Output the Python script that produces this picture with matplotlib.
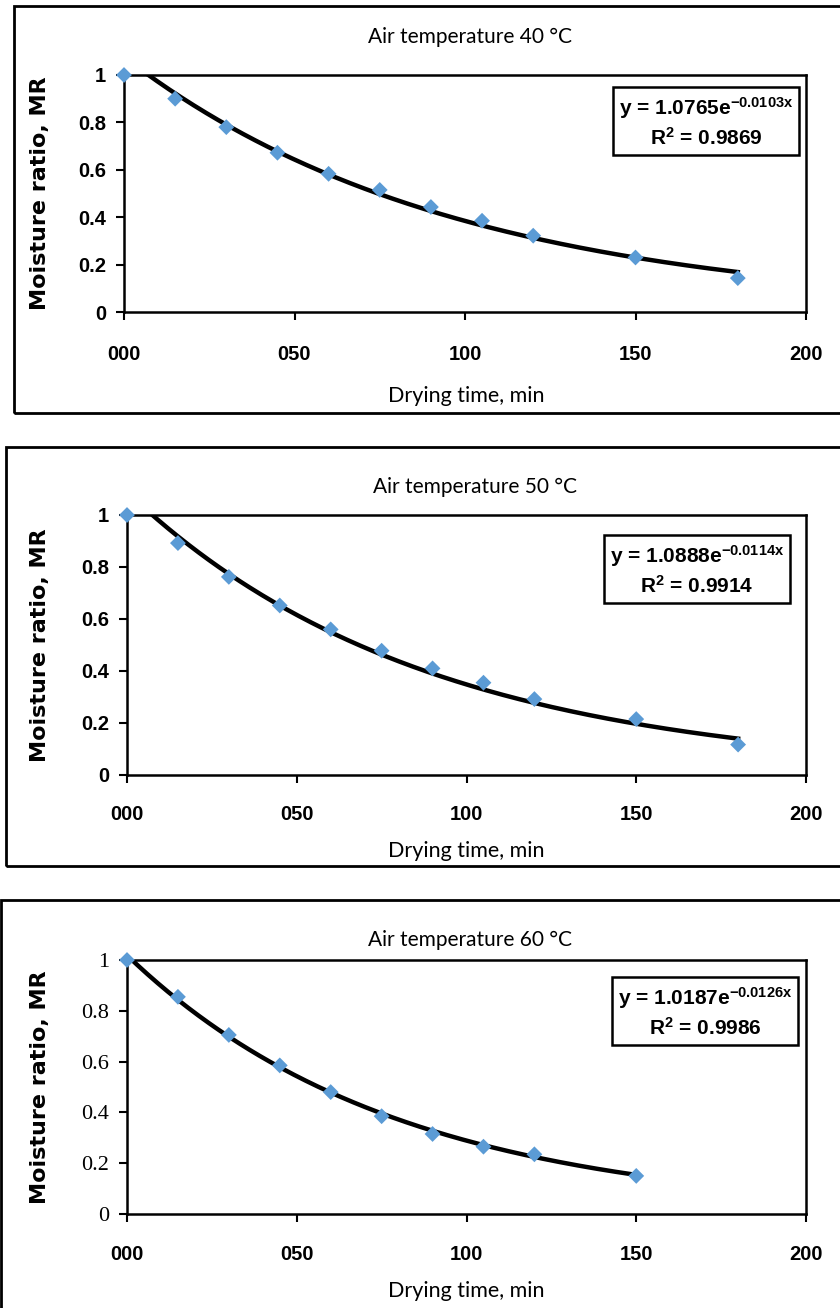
import matplotlib.pyplot as plt
from matplotlib.patches import Rectangle
import numpy as np

plt.rcParams['mathtext.default'] = 'regular'

# Datos
time_40 = [0, 15, 30, 45, 60, 75, 90, 105, 120, 150, 180]
mr_40 = [1.0, 0.90, 0.78, 0.672, 0.583, 0.515, 0.443, 0.385, 0.322, 0.23, 0.143]

time_50 = [0, 15, 30, 45, 60, 75, 90, 105, 120, 150, 180]
mr_50 = [1.0, 0.892, 0.762, 0.652, 0.56, 0.478, 0.41, 0.355, 0.292, 0.215, 0.117]

time_60 = [0, 15, 30, 45, 60, 75, 90, 105, 120, 150]
mr_60 = [1.0, 0.855, 0.705, 0.585, 0.48, 0.385, 0.315, 0.265, 0.235, 0.15]

# Coeficientes de las lineas de tendencia (a, b, R2)
fits = [(1.0765, -0.0103, 0.9869), (1.0888, -0.0114, 0.9914), (1.0187, -0.0126, 0.9986)]
temps = [40, 50, 60]

xticks = [0, 50, 100, 150, 200]
xticklabels = ['000', '050', '100', '150', '200']
yticks = [0, 0.2, 0.4, 0.6, 0.8, 1]
yticklabels = ['0', '0.2', '0.4', '0.6', '0.8', '1']

W, H = 840, 1308
fig = plt.figure(figsize=(W / 100, H / 100), dpi=100)


def fx(px):
    return px / W


def fy(py):
    return 1 - py / H


# Posiciones en pixeles de cada panel: caja exterior, ejes, titulo, ecuacion, etiqueta x
panels = [
    dict(box=(13, 6, 900, 413), ax=(124, 806, 75, 312), title=(470, 37), eq=(706, 122), xl=(466, 396), xt=352),
    dict(box=(5, 447, 900, 866), ax=(127, 806, 515, 775), title=(475, 487), eq=(697, 570), xl=(466, 851), xt=812),
    dict(box=(0, 900, 900, 1320), ax=(127, 806, 960, 1214), title=(470, 940), eq=(705, 1012), xl=(466, 1291), xt=1252),
]

series = [(time_40, mr_40), (time_50, mr_50), (time_60, mr_60)]

for i, p in enumerate(panels):
    x0, y0, x1, y1 = p['box']
    fig.patches.append(Rectangle((fx(x0 + 1), fy(y1)), fx(x1 - x0), (y1 - y0) / H,
                                 transform=fig.transFigure, fill=False,
                                 edgecolor='black', linewidth=2.0, clip_on=False))

    l, r, t, b = p['ax']
    ax = fig.add_axes([fx(l), fy(b), fx(r - l), (b - t) / H])
    xs, ys = series[i]
    a, k, r2 = fits[i]

    # Linea de tendencia exponencial
    xfit = np.linspace(0, xs[-1], 300)
    ax.plot(xfit, a * np.exp(k * xfit), color='black', linewidth=3.2, zorder=2)
    ax.scatter(xs, ys, marker='D', s=65, color='#5b9bd5', edgecolors='none',
               zorder=3, clip_on=False)

    ax.set_xlim(0, 200)
    ax.set_ylim(0, 1)
    ax.set_xticks(xticks)
    ax.set_xticklabels(xticklabels)
    for lbl in ax.get_xticklabels():
        lbl.set_fontfamily('Liberation Sans')
        lbl.set_fontweight('bold')
        lbl.set_fontsize(14.5)
    ax.set_yticks(yticks)
    ax.set_yticklabels(yticklabels)
    for lbl in ax.get_yticklabels():
        if i == 2:
            lbl.set_fontfamily('Liberation Serif')
            lbl.set_fontsize(16)
        else:
            lbl.set_fontfamily('Liberation Sans')
            lbl.set_fontweight('bold')
            lbl.set_fontsize(14.5)
    ax.tick_params(axis='x', direction='out', length=6, width=1.5,
                   pad=(p['xt'] - b - 15) / 1.389)
    ax.tick_params(axis='y', direction='out', length=6, width=1.5, pad=7)
    for sp in ax.spines.values():
        sp.set_linewidth(1.8)

    fig.text(fx(p['title'][0]), fy(p['title'][1]), f'Air temperature {temps[i]} °C',
             ha='center', va='center', fontsize=15, fontfamily='Lato')
    fig.text(fx(p['xl'][0]), fy(p['xl'][1]), 'Drying time, min',
             ha='center', va='center', fontsize=15.5, fontfamily='Lato')
    fig.text(fx(40), fy((t + b) / 2), 'Moisture ratio, MR', rotation=90,
             ha='center', va='center', fontsize=16, fontweight='bold',
             fontfamily='DejaVu Sans')

    eq = f'y = {a:.4f}e$^{{{k:.4f}x}}$\nR$^2$ = {r2:.4f}'
    fig.text(fx(p['eq'][0]), fy(p['eq'][1]), eq, ha='center', va='center',
             fontsize=15, fontweight='bold', fontfamily='Liberation Sans', linespacing=1.3,
             bbox=dict(boxstyle='square,pad=0.3', facecolor='white',
                       edgecolor='black', linewidth=1.8))

fig.savefig('out.png', dpi=100)
